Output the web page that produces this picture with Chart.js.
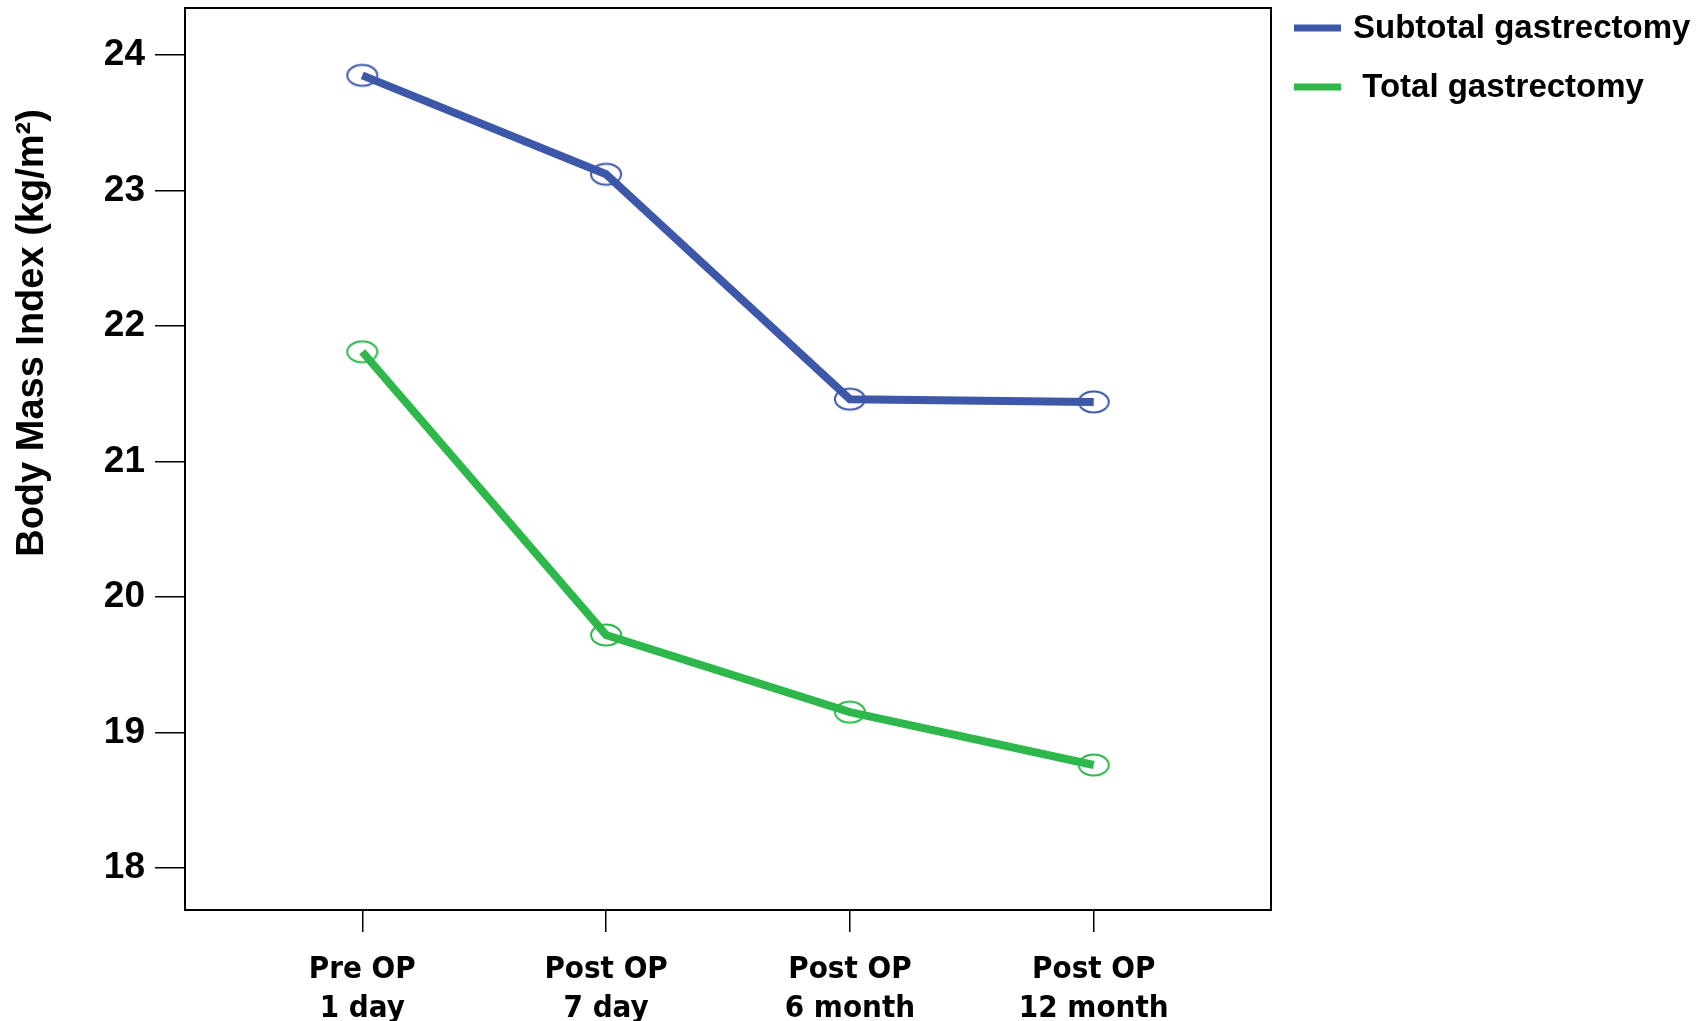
<!DOCTYPE html>
<html>
<head>
<meta charset="utf-8">
<script src="https://cdn.jsdelivr.net/npm/chart.js@4.4.1/dist/chart.umd.min.js"></script>
<style>
  html, body { margin: 0; padding: 0; background: #fff; }
  #wrap { width: 1707px; height: 1021px; }
</style>
</head>
<body>
<div id="wrap"><canvas id="bmiChart"></canvas></div>
<script>
// Data
const categories = [['Pre OP', '1 day'], ['Post OP', '7 day'], ['Post OP', '6 month'], ['Post OP', '12 month']];
const subtotalValues = [23.85, 23.12, 21.46, 21.44];
const totalValues = [21.81, 19.72, 19.15, 18.76];
const yTickValues = [18, 19, 20, 21, 22, 23, 24];
const seriesNames = ['Subtotal gastrectomy', ' Total gastrectomy'];

const BLUE = '#3d57a9';
const GREEN = '#2eb84b';

// open ellipse used as point marker
function ellipseMarker(color) {
    const c = document.createElement('canvas');
    c.width = 34;
    c.height = 26;
    const g = c.getContext('2d');
    g.strokeStyle = color;
    g.lineWidth = 2;
    g.beginPath();
    g.ellipse(17, 13, 15, 10.5, 0, 0, Math.PI * 2);
    g.stroke();
    return c;
}

function toPoints(values) {
    return values.map((v, i) => ({ x: i, y: v }));
}

// scales should not add label overflow padding, the box is fixed
function noPadding(scale) {
    scale.paddingTop = 0;
    scale.paddingBottom = 0;
    scale.paddingLeft = 0;
    scale.paddingRight = 0;
}

// full box around the plot + custom legend + y title
const framePlugin = {
    id: 'frame',
    beforeDatasetsDraw(chart) {
        const { ctx, chartArea: a } = chart;
        ctx.save();
        ctx.strokeStyle = '#000';
        ctx.lineWidth = 2;
        ctx.strokeRect(a.left, a.top, a.right - a.left, a.bottom - a.top);
        ctx.restore();
    },
    afterDraw(chart) {
        const { ctx, chartArea: a } = chart;
        ctx.save();
        // legend
        chart.data.datasets.forEach((ds, i) => {
            const y = 28 + i * 59;
            ctx.strokeStyle = ds.borderColor;
            ctx.lineWidth = 7;
            ctx.beginPath();
            ctx.moveTo(a.right + 23, y);
            ctx.lineTo(a.right + 70, y);
            ctx.stroke();
            ctx.fillStyle = '#000';
            ctx.font = 'bold 33px "Liberation Sans", Arial, sans-serif';
            ctx.textBaseline = 'middle';
            ctx.textAlign = 'left';
            ctx.fillText(ds.label, a.right + 82, y + 1);
        });
        // y axis title
        ctx.translate(33, 333);
        ctx.rotate(-Math.PI / 2);
        ctx.font = 'bold 38px "Liberation Sans", Arial, sans-serif';
        ctx.textAlign = 'center';
        ctx.textBaseline = 'middle';
        ctx.fillStyle = '#000';
        ctx.fillText('Body Mass Index (kg/m\u00B2)', 0, 0);
        ctx.restore();
    }
};

const ctx = document.getElementById('bmiChart').getContext('2d');
new Chart(ctx, {
    type: 'line',
    data: {
        datasets: [
            {
                label: seriesNames[0],
                data: toPoints(subtotalValues),
                borderColor: BLUE,
                backgroundColor: BLUE,
                borderWidth: 8,
                pointStyle: ellipseMarker(BLUE),
                tension: 0
            },
            {
                label: seriesNames[1],
                data: toPoints(totalValues),
                borderColor: GREEN,
                backgroundColor: GREEN,
                borderWidth: 8,
                pointStyle: ellipseMarker(GREEN),
                tension: 0
            }
        ]
    },
    options: {
        responsive: true,
        maintainAspectRatio: false,
        animation: false,
        layout: { autoPadding: false, padding: { top: 8, right: 436, left: 0, bottom: 0 } },
        plugins: {
            legend: { display: false },
            tooltip: { enabled: false }
        },
        scales: {
            x: {
                type: 'linear',
                min: -0.727,
                max: 3.727,
                afterBuildTicks: scale => {
                    scale.ticks = categories.map((_, i) => ({ value: i }));
                },
                afterFit: scale => { scale.height = 111; noPadding(scale); },
                grid: {
                    drawOnChartArea: false,
                    drawTicks: true,
                    tickLength: 22,
                    color: '#000',
                    lineWidth: 1.5
                },
                border: { display: true, color: '#000', width: 2 },
                ticks: {
                    color: '#000',
                    padding: 18,
                    maxRotation: 0,
                    font: { family: '"Liberation Sans Narrow", "DejaVu Sans Condensed", sans-serif', size: 31, weight: 'bold', lineHeight: 1.26 },
                    callback: value => categories[value]
                }
            },
            y: {
                min: 17.69,
                max: 24.347,
                afterBuildTicks: scale => {
                    scale.ticks = yTickValues.map(v => ({ value: v }));
                },
                afterFit: scale => { scale.width = 185; noPadding(scale); },
                grid: {
                    drawOnChartArea: false,
                    drawTicks: true,
                    tickLength: 30,
                    color: '#000',
                    lineWidth: 1.5
                },
                border: { display: true, color: '#000', width: 2 },
                ticks: {
                    color: '#000',
                    padding: 10,
                    font: { family: '"Liberation Sans", Arial, sans-serif', size: 37, weight: 'bold' }
                }
            }
        }
    },
    plugins: [framePlugin]
});
</script>
</body>
</html>
